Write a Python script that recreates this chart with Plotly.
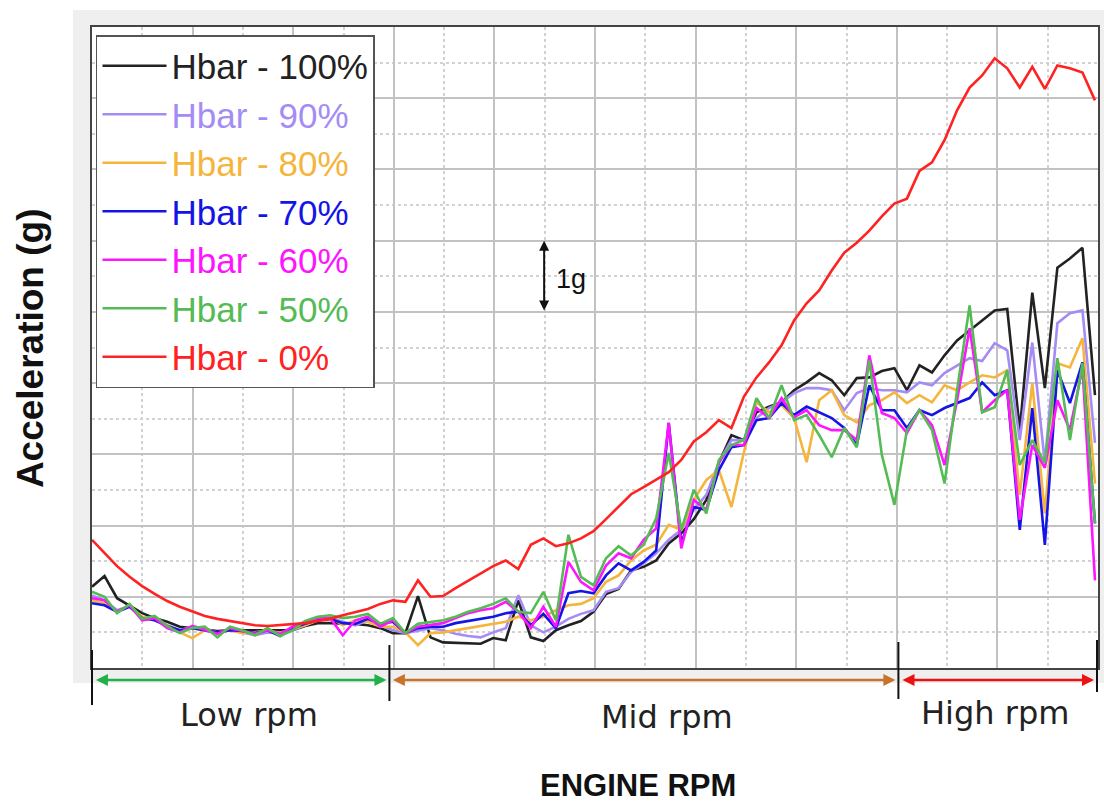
import plotly.graph_objects as go

# engine speed samples (rpm)
rpm = [1000, 1125, 1250, 1375, 1500, 1625, 1750, 1875, 2000, 2125,
       2250, 2375, 2500, 2625, 2750, 2875, 3000, 3125, 3250, 3375,
       3500, 3625, 3750, 3875, 4000, 4125, 4250, 4375, 4500, 4625,
       4750, 4875, 5000, 5125, 5250, 5375, 5500, 5625, 5750, 5875,
       6000, 6125, 6250, 6375, 6500, 6625, 6750, 6875, 7000, 7125,
       7250, 7375, 7500, 7625, 7750, 7875, 8000, 8125, 8250, 8375,
       8500, 8625, 8750, 8875, 9000, 9125, 9250, 9375, 9500, 9625,
       9750, 9875, 10000, 10125, 10250, 10375, 10500, 10625, 10750, 10875,
       11000]

acc_100 = [1.14, 1.29, 0.98, 0.87, 0.77, 0.70, 0.65, 0.58, 0.56, 0.55,
           0.52, 0.53, 0.53, 0.52, 0.52, 0.53, 0.53, 0.59, 0.63, 0.63,
           0.63, 0.62, 0.60, 0.56, 0.49, 0.49, 1.01, 0.43, 0.36, 0.35,
           0.34, 0.34, 0.42, 0.39, 0.95, 0.43, 0.38, 0.53, 0.60, 0.66,
           0.79, 1.04, 1.11, 1.37, 1.42, 1.51, 1.75, 1.89, 2.09, 2.36,
           2.88, 3.27, 3.20, 3.59, 3.67, 3.73, 3.90, 4.01, 4.14, 4.04,
           3.83, 4.07, 4.08, 4.17, 4.21, 3.90, 4.25, 4.15, 4.39, 4.60,
           4.74, 4.88, 5.02, 5.04, 3.34, 5.27, 3.93, 5.62, 5.75, 5.90,
           3.83]

acc_90 = [1.02, 0.95, 0.81, 0.87, 0.70, 0.70, 0.60, 0.53, 0.58, 0.56,
          0.49, 0.53, 0.50, 0.46, 0.50, 0.49, 0.53, 0.60, 0.67, 0.70,
          0.65, 0.60, 0.67, 0.60, 0.53, 0.49, 0.53, 0.56, 0.53, 0.48,
          0.45, 0.43, 0.50, 0.56, 1.02, 0.60, 0.50, 0.58, 0.69, 0.76,
          0.81, 1.07, 1.12, 1.35, 1.47, 1.61, 1.80, 1.94, 2.22, 2.43,
          2.89, 3.20, 3.20, 3.51, 3.65, 3.73, 3.86, 3.93, 3.93, 3.90,
          3.62, 3.86, 3.93, 3.90, 3.90, 3.87, 4.01, 3.97, 4.14, 4.25,
          4.35, 4.31, 4.56, 4.46, 3.20, 4.57, 2.88, 4.84, 4.98, 5.02,
          3.16]

acc_80 = [0.95, 0.91, 0.79, 0.87, 0.72, 0.67, 0.60, 0.50, 0.42, 0.53,
          0.50, 0.53, 0.49, 0.50, 0.53, 0.49, 0.55, 0.60, 0.67, 0.72,
          0.60, 0.67, 0.65, 0.58, 0.58, 0.50, 0.32, 0.49, 0.50, 0.53,
          0.56, 0.59, 0.62, 0.65, 0.72, 0.67, 0.72, 0.81, 0.88, 0.90,
          0.98, 1.21, 1.30, 1.51, 1.65, 1.73, 2.01, 1.94, 2.36, 2.64,
          2.78, 2.26, 3.03, 3.73, 3.59, 3.69, 3.51, 2.89, 3.76, 3.90,
          3.55, 3.45, 3.69, 3.76, 3.87, 3.72, 3.83, 3.73, 3.97, 3.90,
          4.01, 4.11, 4.08, 4.18, 2.43, 4.00, 2.17, 4.28, 4.22, 4.63,
          2.59]

acc_70 = [0.91, 0.88, 0.79, 0.86, 0.70, 0.67, 0.59, 0.53, 0.56, 0.53,
          0.50, 0.53, 0.52, 0.49, 0.53, 0.45, 0.56, 0.62, 0.67, 0.69,
          0.63, 0.62, 0.69, 0.62, 0.65, 0.49, 0.56, 0.58, 0.58, 0.63,
          0.66, 0.70, 0.72, 0.77, 0.79, 0.60, 0.76, 0.56, 1.05, 1.08,
          1.05, 1.30, 1.47, 1.37, 1.49, 1.65, 3.44, 1.75, 2.26, 2.22,
          2.78, 3.10, 3.13, 3.48, 3.51, 3.72, 3.55, 3.67, 3.59, 3.51,
          3.37, 3.13, 3.97, 3.62, 3.62, 3.37, 3.62, 3.55, 3.65, 3.72,
          3.79, 4.01, 3.83, 3.90, 1.94, 3.65, 1.73, 4.18, 3.72, 4.29,
          2.03]

acc_60 = [0.98, 0.95, 0.79, 0.88, 0.67, 0.70, 0.56, 0.50, 0.59, 0.53,
          0.48, 0.56, 0.52, 0.48, 0.53, 0.48, 0.58, 0.65, 0.70, 0.70,
          0.46, 0.67, 0.72, 0.58, 0.67, 0.49, 0.58, 0.60, 0.63, 0.70,
          0.77, 0.81, 0.84, 0.93, 0.79, 0.56, 0.86, 0.58, 1.49, 1.21,
          1.09, 1.44, 1.61, 1.54, 1.80, 1.96, 3.44, 1.68, 2.36, 2.22,
          2.89, 3.13, 3.13, 3.65, 3.51, 3.79, 3.52, 3.62, 3.41, 3.34,
          3.34, 3.20, 4.39, 3.58, 3.51, 3.30, 3.62, 3.41, 2.85, 3.76,
          4.77, 3.59, 3.76, 3.90, 2.08, 3.13, 2.81, 3.76, 3.34, 4.22,
          1.23]

acc_50 = [1.07, 1.00, 0.77, 0.90, 0.69, 0.73, 0.59, 0.49, 0.56, 0.58,
          0.43, 0.58, 0.53, 0.46, 0.56, 0.45, 0.53, 0.66, 0.72, 0.74,
          0.70, 0.72, 0.76, 0.62, 0.70, 0.49, 0.62, 0.65, 0.67, 0.72,
          0.79, 0.84, 0.90, 0.98, 0.79, 0.77, 1.07, 0.67, 1.87, 1.28,
          1.16, 1.54, 1.71, 1.58, 1.73, 2.10, 3.02, 1.94, 2.50, 2.17,
          2.92, 3.13, 3.20, 3.79, 3.51, 3.97, 3.48, 3.55, 3.27, 2.96,
          3.37, 3.10, 4.32, 2.99, 2.29, 3.34, 3.62, 3.34, 2.59, 3.90,
          5.09, 3.59, 3.66, 4.18, 2.85, 3.20, 2.88, 4.35, 3.20, 4.28,
          2.03]

acc_0 = [1.80, 1.61, 1.43, 1.28, 1.15, 1.04, 0.94, 0.86, 0.79, 0.73,
         0.69, 0.66, 0.63, 0.60, 0.59, 0.60, 0.62, 0.63, 0.66, 0.69,
         0.74, 0.79, 0.83, 0.90, 0.95, 0.93, 1.23, 1.00, 1.01, 1.12,
         1.22, 1.32, 1.43, 1.51, 1.39, 1.73, 1.82, 1.71, 1.75, 1.82,
         1.92, 2.09, 2.26, 2.44, 2.54, 2.64, 2.75, 2.92, 3.18, 3.31,
         3.48, 3.37, 3.81, 4.08, 4.29, 4.53, 4.88, 5.12, 5.30, 5.58,
         5.83, 5.97, 6.14, 6.34, 6.52, 6.59, 6.98, 7.10, 7.41, 7.83,
         8.15, 8.32, 8.56, 8.42, 8.15, 8.44, 8.13, 8.46, 8.42, 8.36,
         7.97]

series_names = ["Hbar - 100%", "Hbar - 90%", "Hbar - 80%", "Hbar - 70%",
                "Hbar - 60%", "Hbar - 50%", "Hbar - 0%"]
series_values = [acc_100, acc_90, acc_80, acc_70, acc_60, acc_50, acc_0]
series_colors = ["#222222", "#a58cf5", "#f5b53c", "#1414e6",
                 "#ff14ff", "#55bb55", "#ff2222"]

range_labels = ["Low rpm", "Mid rpm", "High rpm"]
range_colors = ["#22b04b", "#c8722c", "#ee1111"]

fig = go.Figure()
for name, vals, col in zip(series_names, series_values, series_colors):
    fig.add_trace(go.Scatter(
        x=rpm, y=vals, mode="lines", name=f'<span style="color:{col}">{name}</span>',
        legendgroup=name,
        line=dict(color=col, width=2.6),
    ))

FONT = "Liberation Sans, Arial, sans-serif"

# plot area spans x 92..1100 px, y 27..668 px
def px_x(p):
    return (p - 92) / 1008.0

def px_y(p):
    return (668 - p) / 641.0

shapes = [
    # gray panel behind the chart
    dict(type="rect", xref="paper", yref="paper", x0=px_x(73), x1=px_x(1106),
         y0=px_y(683), y1=px_y(10), fillcolor="#efefef", line=dict(width=0), layer="below"),
    # white plotting area
    dict(type="rect", xref="paper", yref="paper", x0=0, x1=1, y0=0, y1=1,
         fillcolor="white", line=dict(width=0), layer="below"),
]
# rpm region separators
for xp, y_top, y_bot in [(92, 650, 705), (390, 645, 701), (900, 642, 699), (1099, 640, 692)]:
    shapes.append(dict(type="line", xref="paper", yref="paper",
                       x0=px_x(xp), x1=px_x(xp), y0=px_y(y_bot), y1=px_y(y_top),
                       line=dict(color="#111111", width=2)))

annotations = []
# rpm region arrows
for (x_start, x_end), col in zip([(95, 387), (393, 897), (903, 1096)], range_colors):
    annotations.append(dict(
        xref="paper", yref="paper", x=px_x(x_end), y=px_y(680),
        ax=-(x_end - x_start), ay=0, axref="pixel", ayref="pixel",
        text="", showarrow=True, arrowhead=2, arrowside="end+start",
        arrowsize=1.0, arrowwidth=2.4, arrowcolor=col))
# rpm region labels
for label, (xc, yc) in zip(range_labels, [(249, 715), (668, 717), (997, 713)]):
    annotations.append(dict(
        xref="paper", yref="paper", x=px_x(xc), y=px_y(yc),
        xanchor="center", yanchor="middle", showarrow=False, text=label,
        font=dict(family="DejaVu Sans, sans-serif", size=32, color="#222222")))

# axis titles
annotations.append(dict(
    xref="paper", yref="paper", x=px_x(639), y=px_y(786),
    xanchor="center", yanchor="middle", showarrow=False,
    text="<b>ENGINE RPM</b>", font=dict(family=FONT, size=31, color="#111111")))
annotations.append(dict(
    xref="paper", yref="paper", x=px_x(30), y=px_y(348),
    xanchor="center", yanchor="middle", showarrow=False, textangle=-90,
    text="<b>Acceleration (g)</b>", font=dict(family=FONT, size=37, color="#111111")))

# 1g scale arrow
annotations.append(dict(
    xref="x", yref="y", x=5508, y=6.0, axref="x", ayref="y", ax=5508, ay=5.0,
    text="", showarrow=True, arrowhead=2, arrowside="end+start",
    arrowsize=1.0, arrowwidth=2, arrowcolor="#111111"))
annotations.append(dict(
    xref="x", yref="y", x=5776, y=5.46, showarrow=False, text="1g",
    xanchor="center", yanchor="middle",
    font=dict(family=FONT, size=27, color="#111111")))

fig.update_layout(
    width=1104, height=807,
    margin=dict(l=92, r=4, t=27, b=139),
    paper_bgcolor="white", plot_bgcolor="white",
    shapes=shapes, annotations=annotations,
    showlegend=True,
    legend=dict(x=px_x(96), y=px_y(35), xanchor="left", yanchor="top",
                bgcolor="white", bordercolor="#555555", borderwidth=1.5,
                font=dict(family=FONT, size=35), itemwidth=64,
                tracegroupgap=0, traceorder="normal"),
    xaxis=dict(range=[1000, 11030], tick0=1000, dtick=1003,
               showticklabels=False, ticks="", zeroline=False,
               showgrid=True, gridcolor="#c2c2c2", gridwidth=1.5,
               minor=dict(dtick=501.5, tick0=1000, showgrid=True, gridcolor="#d2d2d2",
                          griddash="dot", gridwidth=1.5),
               showline=True, mirror=True, linecolor="#444444", linewidth=1.5),
    yaxis=dict(range=[0, 9], tick0=0, dtick=1,
               showticklabels=False, ticks="", zeroline=False,
               showgrid=True, gridcolor="#c2c2c2", gridwidth=1.5,
               minor=dict(dtick=0.5, tick0=0, showgrid=True, gridcolor="#d2d2d2",
                          griddash="dot", gridwidth=1.5),
               showline=True, mirror=True, linecolor="#444444", linewidth=1.5),
)

fig.write_html("out.html")
